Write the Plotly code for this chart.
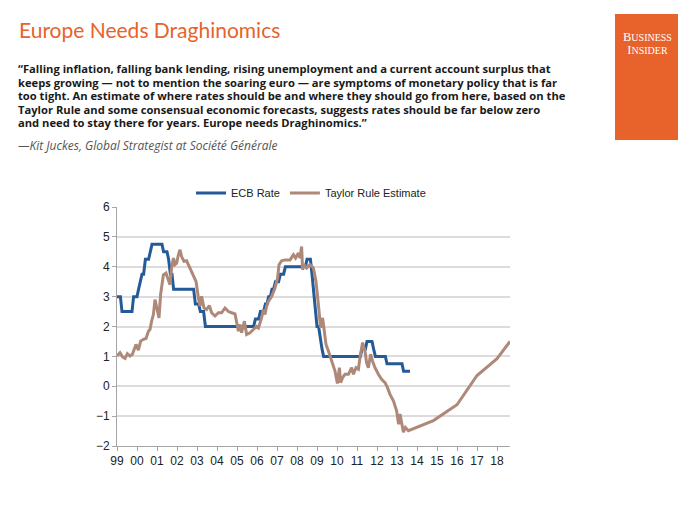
import plotly.graph_objects as go

# ---------------- data ----------------
ecb_years = [1999.0, 1999.17, 1999.25, 1999.75, 1999.83, 2000.0, 2000.08, 2000.17, 2000.25,
             2000.33, 2000.42, 2000.58, 2000.67, 2000.75, 2001.25, 2001.33, 2001.5, 2001.58,
             2001.67, 2001.75, 2001.83, 2002.83, 2002.92, 2003.08, 2003.17, 2003.33, 2003.42,
             2005.83, 2005.92, 2006.08, 2006.17, 2006.33, 2006.42, 2006.5, 2006.58, 2006.67,
             2006.75, 2006.83, 2006.92, 2007.08, 2007.17, 2007.33, 2007.42, 2008.42, 2008.5,
             2008.67, 2008.75, 2008.83, 2008.92, 2009.0, 2009.08, 2009.17, 2009.25, 2009.33,
             2011.17, 2011.25, 2011.42, 2011.5, 2011.75, 2011.83, 2011.92, 2012.42, 2012.5,
             2013.25, 2013.33, 2013.65]
ecb_rate = [3.0, 3.0, 2.5, 2.5, 3.0, 3.0, 3.25, 3.5, 3.75,
            3.75, 4.25, 4.25, 4.5, 4.75, 4.75, 4.5, 4.5, 4.25,
            3.75, 3.75, 3.25, 3.25, 2.75, 2.75, 2.5, 2.5, 2.0,
            2.0, 2.25, 2.25, 2.5, 2.5, 2.75, 2.75, 3.0, 3.0,
            3.25, 3.25, 3.5, 3.5, 3.75, 3.75, 4.0, 4.0, 4.25,
            4.25, 3.75, 3.25, 2.5, 2.0, 2.0, 1.5, 1.25, 1.0,
            1.0, 1.25, 1.25, 1.5, 1.5, 1.25, 1.0, 1.0, 0.75,
            0.75, 0.5, 0.5]

taylor_years = [1999.00, 1999.15, 1999.28, 1999.40, 1999.52, 1999.65, 1999.77, 1999.85, 1999.95,
                2000.07, 2000.18, 2000.32, 2000.45, 2000.57, 2000.65, 2000.73, 2000.82, 2000.90,
                2000.98, 2001.10, 2001.18, 2001.32, 2001.45, 2001.57, 2001.65, 2001.73, 2001.82,
                2001.90, 2001.98, 2002.07, 2002.15, 2002.23, 2002.35, 2002.48, 2002.65, 2002.82,
                2002.95, 2003.07, 2003.15, 2003.23, 2003.35, 2003.48, 2003.62, 2003.73, 2003.90,
                2004.07, 2004.23, 2004.40, 2004.57, 2004.73, 2004.90, 2005.07, 2005.15, 2005.23,
                2005.37, 2005.48, 2005.65, 2005.82, 2005.98, 2006.07, 2006.23, 2006.32, 2006.40,
                2006.48, 2006.57, 2006.73, 2006.90, 2007.03, 2007.10, 2007.23, 2007.40, 2007.65,
                2007.82, 2007.93, 2008.07, 2008.15, 2008.23, 2008.28, 2008.35, 2008.48, 2008.65,
                2008.82, 2008.95, 2009.07, 2009.18, 2009.28, 2009.35, 2009.45, 2009.57, 2009.68,
                2009.82, 2009.90, 2010.02, 2010.12, 2010.18, 2010.28, 2010.40, 2010.57, 2010.73,
                2010.82, 2010.95, 2011.07, 2011.15, 2011.28, 2011.40, 2011.48, 2011.57, 2011.68,
                2011.78, 2011.90, 2012.07, 2012.23, 2012.40, 2012.52, 2012.65, 2012.82, 2012.98,
                2013.08, 2013.15, 2013.23, 2013.32, 2013.42, 2013.57, 2014.82, 2016.00, 2017.00,
                2018.00, 2018.65]
taylor_est = [1.01, 1.12, 0.98, 0.93, 1.09, 1.01, 1.07, 1.23, 1.40,
              1.21, 1.51, 1.57, 1.60, 1.84, 1.90, 2.18, 2.40, 2.90,
              2.62, 2.29, 3.07, 3.73, 3.79, 3.51, 3.40, 3.96, 4.29,
              4.07, 4.12, 4.40, 4.57, 4.34, 4.18, 4.20, 3.96, 3.73,
              3.51, 2.96, 2.68, 3.01, 2.62, 2.57, 2.70, 2.46, 2.35,
              2.46, 2.46, 2.62, 2.50, 2.46, 2.42, 1.84, 2.07, 1.79,
              2.18, 1.73, 1.79, 1.90, 2.00, 1.95, 2.29, 2.57, 2.40,
              2.68, 2.84, 3.00, 3.29, 3.62, 4.07, 4.20, 4.23, 4.23,
              4.40, 4.29, 4.46, 4.29, 4.68, 3.90, 4.07, 3.96, 4.07,
              3.96, 3.51, 2.73, 1.96, 2.29, 1.84, 1.40, 1.18, 0.96,
              0.73, 0.51, 0.09, 0.62, 0.12, 0.29, 0.40, 0.40, 0.62,
              0.40, 0.62, 0.57, 0.96, 1.46, 1.18, 0.79, 0.62, 1.07,
              0.84, 0.62, 0.40, 0.23, 0.12, -0.04, -0.27, -0.49, -0.82,
              -1.27, -0.93, -1.21, -1.54, -1.38, -1.49, -1.15, -0.62, 0.36,
              0.92, 1.50]

tick_years = list(range(1999, 2019))
tick_labels = ["99", "00", "01", "02", "03", "04", "05", "06", "07", "08",
               "09", "10", "11", "12", "13", "14", "15", "16", "17", "18"]

title_text = "Europe Needs Draghinomics"
quote_lines = [
    "\u201cFalling inflation, falling bank lending, rising unemployment and a current account surplus that",
    "keeps growing \u2014 not to mention the soaring euro \u2014 are symptoms of monetary policy that is far",
    "too tight. An estimate of where rates should be and where they should go from here, based on the",
    "Taylor Rule and some consensual economic forecasts, suggests rates should be far below zero",
    "and need to stay there for years. Europe needs Draghinomics.\u201d",
]
attribution = "\u2014Kit Juckes, Global Strategist at Soci\u00e9t\u00e9 G\u00e9n\u00e9rale"
logo_lines = ["BUSINESS", "INSIDER"]

# ---------------- layout geometry ----------------
W, H = 700, 525
L, R, T, B = 117, 190, 207, 79
PW, PH = W - L - R, H - T - B

def px(x):
    return (x - L) / PW

def py(y):
    return (H - B - y) / PH

ECB_COLOR = "#245A98"
TAY_COLOR = "#AE8878"
ORANGE = "#E8622B"

fig = go.Figure()
fig.add_trace(go.Scatter(x=ecb_years, y=ecb_rate, mode="lines", name="ECB Rate",
                         line=dict(color=ECB_COLOR, width=3)))
fig.add_trace(go.Scatter(x=taylor_years, y=taylor_est, mode="lines", name="Taylor Rule Estimate",
                         line=dict(color=TAY_COLOR, width=3)))

annotations = []
annotations.append(dict(x=px(17), y=py(30), xref="paper", yref="paper", xanchor="left",
                        yanchor="middle", showarrow=False, text=title_text,
                        font=dict(family="Lato", size=21, color=ORANGE)))

# quote: one text block; base size sets the line pitch, span sets glyph size
quote_html = "<br>".join("<span style='font-size:11.2px'><b>" + t + "</b></span>"
                         for t in quote_lines)
annotations.append(dict(x=px(16), y=py(95), xref="paper", yref="paper", xanchor="left",
                        yanchor="middle", align="left", showarrow=False, text=quote_html,
                        font=dict(family="Open Sans", size=10.4, color="#1a1a1a")))
annotations.append(dict(x=px(16), y=py(145), xref="paper", yref="paper", xanchor="left",
                        yanchor="middle", showarrow=False, text="<i>" + attribution + "</i>",
                        font=dict(family="Open Sans", size=12, color="#555555")))

logo_html = "<br>".join("<span style='font-size:12.5px'>" + s[0] + "</span>" + s[1:]
                        for s in logo_lines)
annotations.append(dict(x=px(647), y=py(43), xref="paper", yref="paper", xanchor="center",
                        yanchor="middle", align="center", showarrow=False, text=logo_html,
                        font=dict(family="Liberation Serif", size=10, color="white")))

shapes = [dict(type="rect", xref="paper", yref="paper", x0=px(615), x1=px(678),
               y0=py(140), y1=py(14), fillcolor=ORANGE, line=dict(width=0), layer="above")]

fig.update_layout(
    width=W, height=H,
    margin=dict(l=L, r=R, t=T, b=B, pad=0),
    paper_bgcolor="white", plot_bgcolor="white",
    font=dict(family="Liberation Sans", size=12, color="#222222"),
    showlegend=True,
    legend=dict(orientation="h", x=px(311), xanchor="center", y=py(193), yanchor="middle",
                font=dict(family="Liberation Sans", size=11, color="#222222"),
                bgcolor="rgba(0,0,0,0)", itemwidth=30, traceorder="normal"),
    xaxis=dict(range=[1999.0, 2018.65], tickmode="array", tickvals=tick_years,
               ticktext=tick_labels, showgrid=False, zeroline=False, showline=True,
               linecolor="#A6A6A6", linewidth=1, ticks="outside", ticklen=4,
               tickcolor="#A6A6A6", tickfont=dict(size=12, color="#222222")),
    yaxis=dict(range=[-2, 6], tickmode="array", tickvals=list(range(-2, 7)),
               showgrid=True, gridcolor="#DCDCDC", gridwidth=1.5, zeroline=False,
               showline=True, linecolor="#A6A6A6", linewidth=1, ticks="outside",
               ticklen=4, tickcolor="#A6A6A6", tickfont=dict(size=12, color="#222222")),
    annotations=annotations,
    shapes=shapes,
)

fig.write_html("out.html")
